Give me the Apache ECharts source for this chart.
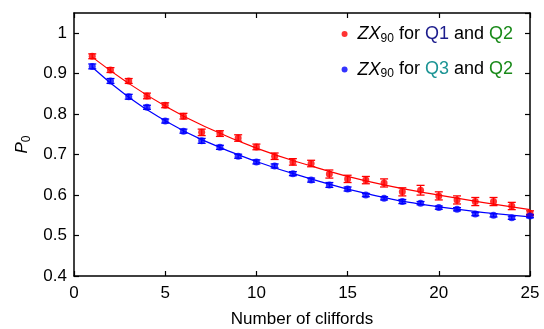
<!DOCTYPE html>
<html>
<head>
<meta charset="utf-8">
<script src="https://cdn.jsdelivr.net/npm/echarts@6/dist/echarts.min.js"></script>
<style>
  html, body { margin: 0; padding: 0; background: #fff; }
  #chart { width: 544px; height: 329px; }
</style>
</head>
<body>
<div id="chart"></div>
<script>
// measured points, x = number of cliffords
const cliffords = [1, 2, 3, 4, 5, 6, 7, 8, 9, 10, 11, 12, 13, 14, 15, 16, 17, 18, 19, 20, 21, 22, 23, 24, 25];
const q1q2 = [0.943, 0.909, 0.882, 0.845, 0.822, 0.795, 0.755, 0.752, 0.741, 0.719, 0.696, 0.682, 0.678, 0.652, 0.640, 0.637, 0.630, 0.608, 0.612, 0.598, 0.588, 0.584, 0.584, 0.573, 0.555];
const q1q2Err = [0.006, 0.006, 0.006, 0.007, 0.006, 0.007, 0.008, 0.007, 0.008, 0.007, 0.008, 0.008, 0.008, 0.010, 0.009, 0.009, 0.010, 0.010, 0.012, 0.010, 0.010, 0.010, 0.010, 0.009, 0.006];
const q3q2 = [0.918, 0.882, 0.843, 0.817, 0.783, 0.758, 0.734, 0.718, 0.696, 0.682, 0.672, 0.653, 0.637, 0.625, 0.615, 0.600, 0.592, 0.584, 0.580, 0.569, 0.565, 0.553, 0.550, 0.544, 0.548];
const q3q2Err = [0.006, 0.006, 0.006, 0.005, 0.005, 0.005, 0.006, 0.005, 0.005, 0.005, 0.005, 0.005, 0.005, 0.006, 0.005, 0.004, 0.004, 0.005, 0.004, 0.004, 0.004, 0.004, 0.004, 0.004, 0.004];

// fitted decay curves
const fitX = [1, 3, 5, 7, 10, 13, 16, 20, 25];
const fitQ1 = [0.941, 0.876, 0.820, 0.773, 0.716, 0.672, 0.635, 0.600, 0.564];
const fitQ3 = [0.916, 0.842, 0.784, 0.737, 0.683, 0.640, 0.604, 0.571, 0.546];

const RED = '#ff0000';
const BLUE = '#0000ff';

function pairs(xs, ys) {
    return xs.map((x, i) => [x, ys[i]]);
}

function errData(ys, errs) {
    return cliffords.map((x, i) => [x, ys[i] - errs[i], ys[i] + errs[i]]);
}

function errorBars(color) {
    return function (params, api) {
        const lo = api.coord([api.value(0), api.value(1)]);
        const hi = api.coord([api.value(0), api.value(2)]);
        const w = 4;
        const style = { stroke: color, lineWidth: 1.3 };
        return {
            type: 'group',
            children: [
                { type: 'line', shape: { x1: lo[0], y1: lo[1], x2: hi[0], y2: hi[1] }, style: style },
                { type: 'line', shape: { x1: lo[0] - w, y1: lo[1], x2: lo[0] + w, y2: lo[1] }, style: style },
                { type: 'line', shape: { x1: hi[0] - w, y1: hi[1], x2: hi[0] + w, y2: hi[1] }, style: style }
            ]
        };
    };
}

const chart = echarts.init(document.getElementById('chart'));

const axisCommon = {
    axisLine: { show: true, onZero: false, lineStyle: { color: '#000', width: 1.5 } },
    axisTick: { show: true, inside: true, length: 5, lineStyle: { color: '#000', width: 1.2 } },
    splitLine: { show: false }
};

const legendRich = {
    zx: { fontFamily: 'Liberation Sans', fontSize: 18, fontStyle: 'italic', color: '#000', padding: [0, 0, 0, 5] },
    sub: { fontFamily: 'Liberation Sans', fontSize: 12, color: '#000', padding: [9, 0, 0, 0] },
    t: { fontFamily: 'Liberation Sans', fontSize: 18, color: '#000' },
    q1: { fontFamily: 'Liberation Sans', fontSize: 18, color: '#1c1c8c' },
    q3: { fontFamily: 'Liberation Sans', fontSize: 18, color: '#1c9494' },
    q2: { fontFamily: 'Liberation Sans', fontSize: 18, color: '#1a8a1a' }
};

const option = {
    animation: false,
    textStyle: { fontFamily: 'Liberation Sans' },
    grid: { left: 74, right: 14, top: 13, bottom: 53, outerBoundsMode: 'none' },
    legend: {
        orient: 'vertical',
        right: 26,
        top: 20,
        itemGap: 16,
        itemWidth: 6,
        itemHeight: 6,
        icon: 'circle',
        data: ['q1', 'q3'],
        formatter: function (name) {
            const q = name === 'q1' ? '{q1|Q1}' : '{q3|Q3}';
            return '{zx|ZX}{sub|90}{t| for }' + q + '{t| and }{q2|Q2}';
        },
        textStyle: { rich: legendRich }
    },
    xAxis: [
        Object.assign({
            type: 'value', min: 0, max: 25, interval: 5,
            name: 'Number of cliffords', nameLocation: 'middle', nameGap: 35,
            nameTextStyle: { fontSize: 17, color: '#000' },
            axisLabel: { fontSize: 17, color: '#000', margin: 9 }
        }, axisCommon),
        Object.assign({
            type: 'value', min: 0, max: 25, interval: 5, position: 'top',
            axisLabel: { show: false }
        }, axisCommon)
    ],
    yAxis: [
        Object.assign({
            type: 'value', min: 0.4, max: 1.05, interval: 0.1,
            name: '{p|P}{s|0}', nameLocation: 'middle', nameGap: 40,
            nameTextStyle: {
                rich: {
                    p: { fontSize: 17, fontStyle: 'italic', color: '#000' },
                    s: { fontSize: 12, color: '#000', padding: [9, 0, 0, 0] }
                }
            },
            axisLabel: {
                fontSize: 17, color: '#000', margin: 7, showMaxLabel: false,
                formatter: function (v) { return +v.toFixed(1) + ''; }
            }
        }, axisCommon),
        Object.assign({
            type: 'value', min: 0.4, max: 1.05, interval: 0.1, position: 'right',
            axisLabel: { show: false }
        }, axisCommon)
    ],
    series: [
        {
            name: 'q1-fit', type: 'line', smooth: true, showSymbol: false,
            data: pairs(fitX, fitQ1), lineStyle: { color: RED, width: 1.2 }, z: 2
        },
        {
            name: 'q3-fit', type: 'line', smooth: true, showSymbol: false,
            data: pairs(fitX, fitQ3), lineStyle: { color: BLUE, width: 1.2 }, z: 2
        },
        {
            name: 'q1-err', type: 'custom', renderItem: errorBars(RED),
            data: errData(q1q2, q1q2Err), encode: { x: 0, y: [1, 2] }, z: 3
        },
        {
            name: 'q3-err', type: 'custom', renderItem: errorBars(BLUE),
            data: errData(q3q2, q3q2Err), encode: { x: 0, y: [1, 2] }, z: 3
        },
        {
            name: 'q1', type: 'scatter', symbolSize: 7,
            data: pairs(cliffords, q1q2), itemStyle: { color: RED }, z: 4
        },
        {
            name: 'q3', type: 'scatter', symbolSize: 7,
            data: pairs(cliffords, q3q2), itemStyle: { color: BLUE }, z: 4
        }
    ]
};

chart.setOption(option);
</script>
</body>
</html>
